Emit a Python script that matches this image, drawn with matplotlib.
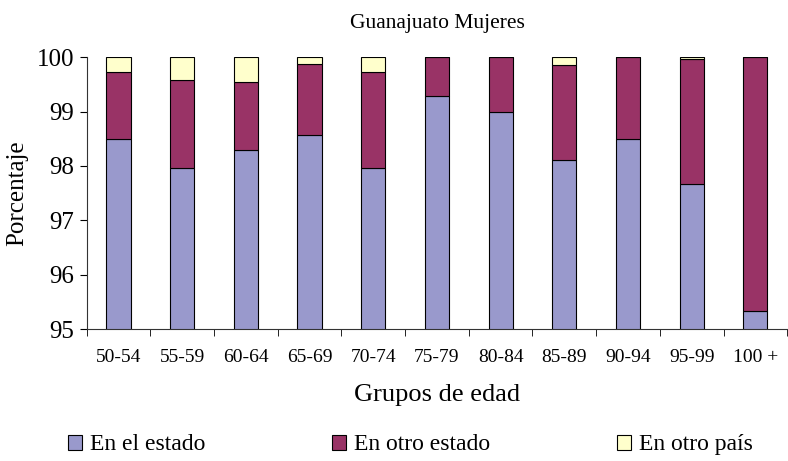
import numpy as np
import matplotlib.pyplot as plt

plt.rcParams['font.family'] = ['Liberation Serif', 'DejaVu Serif']

grupos = ['50-54', '55-59', '60-64', '65-69', '70-74', '75-79',
          '80-84', '85-89', '90-94', '95-99', '100 +']
en_estado = [98.50, 97.97, 98.30, 98.56, 97.97, 99.28, 98.99, 98.11, 98.50, 97.67, 95.33]
otro_estado = [1.22, 1.61, 1.24, 1.32, 1.76, 0.72, 1.01, 1.74, 1.50, 2.29, 4.67]
otro_pais = [0.28, 0.42, 0.46, 0.12, 0.27, 0.00, 0.00, 0.15, 0.00, 0.04, 0.00]

en_estado = np.array(en_estado)
otro_estado = np.array(otro_estado)
otro_pais = np.array(otro_pais)
x = np.arange(len(grupos))

fig = plt.figure(figsize=(7.88, 4.61), dpi=100)
ax = fig.add_axes([0.110, 0.286, 0.889, 0.590])

w = 0.38
ax.bar(x, en_estado, w, color='#9999cc', edgecolor='black', linewidth=0.8, label='En el estado')
ax.bar(x, otro_estado, w, bottom=en_estado, color='#993366', edgecolor='black', linewidth=0.8,
       label='En otro estado')
ax.bar(x, otro_pais, w, bottom=en_estado + otro_estado, color='#ffffcc', edgecolor='black',
       linewidth=0.8, label='En otro país')

ax.set_ylim(95, 100)
ax.set_xlim(-0.5, len(grupos) - 0.5)
ax.set_yticks([95, 96, 97, 98, 99, 100])
ax.set_xticks(x)
ax.set_xticklabels(grupos)
ax.set_xticks(np.arange(-0.5, len(grupos), 1), minor=True)
ax.tick_params(axis='x', which='major', length=0, labelsize=14, pad=14)
ax.tick_params(axis='x', which='minor', length=5, direction='out')
ax.tick_params(axis='y', labelsize=18, length=5, direction='out', pad=4)

for s in ['top', 'right']:
    ax.spines[s].set_visible(False)
ax.spines['left'].set_color('#333333')
ax.spines['bottom'].set_color('#333333')

ax.set_title('Guanajuato Mujeres', fontsize=15.5, pad=21)
ax.set_ylabel('Porcentaje', fontsize=18, labelpad=6)
ax.set_xlabel('Grupos de edad', fontsize=19, labelpad=13)

fig.legend(loc='center', bbox_to_anchor=(0.521, 0.035), ncol=3, frameon=False,
           fontsize=17, handlelength=0.6, handleheight=0.6, handletextpad=0.35,
           columnspacing=5.35)

plt.savefig('out.png', dpi=100)
